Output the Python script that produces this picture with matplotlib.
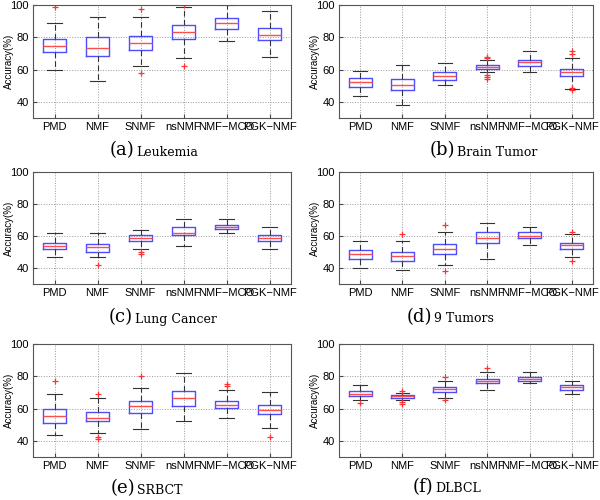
import matplotlib
matplotlib.use('Agg')
import matplotlib.pyplot as plt

methods = ['PMD', 'NMF', 'SNMF', 'nsNMF', 'NMF\u2212MCO', 'PGK\u2212NMF']

# per dataset: [whislo, q1, med, q3, whishi] for each method, plus outliers
leuk_stats = [[59.7, 70.6, 74.5, 79.0, 88.7],
              [53.0, 68.6, 73.3, 79.9, 92.8],
              [62.2, 72.3, 76.2, 80.5, 92.8],
              [67.1, 79.2, 83.2, 87.5, 99.0],
              [77.6, 85.0, 88.7, 91.8, 100.0],
              [67.5, 78.2, 81.3, 86.0, 96.3]]
leuk_out = [[99.0], [], [57.9, 97.3], [62.4, 100.2], [], []]

brain_stats = [[43.7, 49.2, 52.1, 54.6, 59.3],
               [38.2, 47.2, 50.5, 54.2, 62.6],
               [50.5, 53.8, 56.2, 58.3, 64.0],
               [58.3, 60.3, 61.6, 62.6, 66.1],
               [58.3, 62.2, 64.5, 66.1, 71.6],
               [48.0, 55.8, 58.3, 60.5, 66.9]]
brain_out = [[], [], [], [54.2, 55.4, 56.9, 67.0, 67.7], [], [47.2, 48.6, 69.8, 71.2]]

lung_stats = [[46.7, 52.1, 54.0, 55.8, 62.1],
              [46.7, 50.2, 52.9, 55.2, 62.1],
              [52.1, 57.1, 58.5, 60.4, 63.7],
              [53.7, 60.4, 62.1, 65.4, 70.4],
              [61.9, 64.4, 65.8, 67.1, 70.4],
              [51.9, 57.1, 58.7, 60.4, 65.4]]
lung_out = [[], [42.1], [48.8, 50.0], [], [], []]

tum9_stats = [[40.0, 45.8, 48.9, 51.3, 56.9],
              [38.7, 44.5, 47.4, 49.9, 56.9],
              [41.6, 48.7, 51.8, 54.9, 62.5],
              [45.8, 55.7, 58.6, 62.5, 68.1],
              [54.5, 58.6, 60.0, 62.5, 65.4],
              [47.0, 51.6, 54.2, 55.5, 61.1]]
tum9_out = [[], [61.1], [38.3, 66.9], [], [], [44.1, 62.7]]

srbct_stats = [[43.5, 50.9, 55.5, 60.0, 68.9],
               [44.7, 52.0, 54.2, 58.0, 66.5],
               [47.2, 57.4, 61.5, 64.4, 72.5],
               [52.0, 61.5, 66.7, 71.0, 82.0],
               [54.2, 60.5, 62.5, 65.0, 71.2],
               [48.2, 56.7, 59.0, 62.5, 70.0]]
srbct_out = [[77.2], [41.0, 42.2, 69.2], [79.9], [], [73.7, 75.4], [42.4]]

dlbcl_stats = [[65.4, 67.7, 69.2, 70.6, 74.4],
               [65.4, 66.7, 67.5, 68.3, 69.4],
               [66.7, 70.4, 71.9, 73.3, 76.9],
               [71.7, 75.6, 77.1, 78.3, 82.7],
               [75.6, 77.1, 78.5, 79.6, 82.5],
               [69.2, 71.5, 73.1, 74.4, 77.1]]
dlbcl_out = [[63.5], [62.7, 64.0, 70.8], [65.4, 79.6], [85.2], [], []]

letters = ['(a)', '(b)', '(c)', '(d)', '(e)', '(f)']
names = ['Leukemia', 'Brain Tumor', 'Lung Cancer', '9 Tumors', 'SRBCT', 'DLBCL']
all_stats = [leuk_stats, brain_stats, lung_stats, tum9_stats, srbct_stats, dlbcl_stats]
all_out = [leuk_out, brain_out, lung_out, tum9_out, srbct_out, dlbcl_out]

plt.rcParams['font.family'] = ['Liberation Sans', 'DejaVu Sans']

fig = plt.figure(figsize=(6, 5), dpi=100)

# axes rectangles in pixels: left, top, right, bottom
rects = [(33, 5, 291, 118), (339, 5, 593, 118),
         (33, 172, 291, 284), (339, 172, 593, 284),
         (33, 344, 291, 457), (339, 344, 593, 457)]
# caption split x (px) and y (px)
cap_pos = [(134, 150), (455, 150), (133, 317), (432, 317), (135, 488), (433, 487)]

for i in range(6):
    l, t, r, b = rects[i]
    ax = fig.add_axes([l / 600, 1 - b / 500, (r - l) / 600, (b - t) / 500])
    stats = []
    for s, o in zip(all_stats[i], all_out[i]):
        stats.append(dict(whislo=s[0], q1=s[1], med=s[2], q3=s[3], whishi=s[4], fliers=o))
    ax.bxp(stats, positions=range(1, 7), widths=0.55, capwidths=0.33,
           boxprops=dict(color='#4d4dff', linewidth=1.0),
           medianprops=dict(color='#ff4d4d', linewidth=1.0),
           whiskerprops=dict(color='#333333', linestyle=(0, (5, 3)), linewidth=0.8),
           capprops=dict(color='#333333', linewidth=0.8),
           flierprops=dict(marker='+', markeredgecolor='#ff3333', markersize=5, markeredgewidth=0.9))
    ax.set_xlim(0.5, 6.5)
    ax.set_ylim(30, 100)
    ax.set_yticks([40, 60, 80, 100])
    ax.set_xticks(range(1, 7))
    ax.set_xticklabels(methods)
    ax.grid(True, linestyle=':', color='#999999', linewidth=0.7)
    ax.set_axisbelow(True)
    ax.tick_params(labelsize=8, direction='in', length=3, color='#444444', pad=3)
    ax.set_ylabel('Accuracy(%)', fontsize=7, va='center')
    lx = 9 if i % 2 == 0 else 315
    ax.yaxis.set_label_coords((lx - l) / (r - l), 0.5)
    for sp in ax.spines.values():
        sp.set_color('#555555')
        sp.set_linewidth(0.8)

    cx, cy = cap_pos[i]
    fig.text(cx / 600, 1 - cy / 500, letters[i], ha='right', va='center',
             family='DejaVu Serif', fontsize=13)
    fig.text(cx / 600 + 0.003, 1 - cy / 500 - 0.004, names[i], ha='left', va='center',
             family='DejaVu Serif', fontsize=9)

fig.savefig('out.png', dpi=100)
